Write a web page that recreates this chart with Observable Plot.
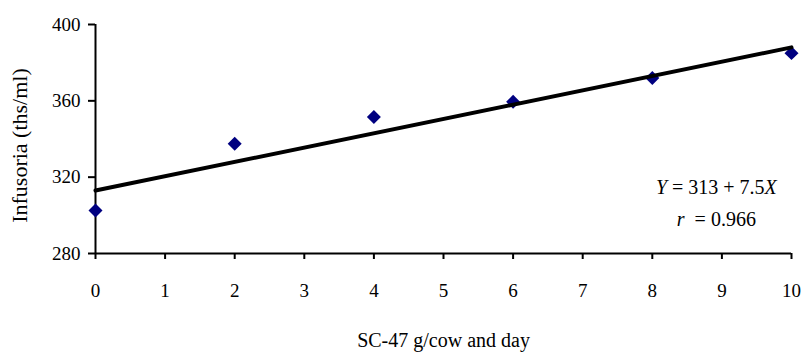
<!DOCTYPE html>
<html>
<head>
<meta charset="utf-8">
<script src="https://cdn.jsdelivr.net/npm/d3@7"></script>
<script src="https://cdn.jsdelivr.net/npm/@observablehq/plot@0.6"></script>
<style>
  html, body { margin: 0; padding: 0; background: white; }
</style>
</head>
<body>
<div id="chart"></div>
<script>
// Data
const doses = [0, 2, 4, 6, 8, 10];
const infusoria = [302.5, 337.5, 351.5, 359.5, 372, 385];
const xTicks = [0, 1, 2, 3, 4, 5, 6, 7, 8, 9, 10];
const yTicks = [280, 320, 360, 400];
const intercept = 313;
const slope = 7.5;
const rValue = "0.966";
const xLabel = "SC-47 g/cow and day";
const yLabel = "Infusoria (ths/ml)";

const points = doses.map((d, i) => ({x: d, y: infusoria[i]}));
const fitLine = [0, 10].map(x => ({x, y: intercept + slope * x}));
const eqText = `Y = ${intercept} + ${slope}X`;
const rText = `r = ${rValue}`;
const annotations = [
  {x: 8.92, y: 314.4, text: eqText},
  {x: 8.92, y: 297.8, text: rText}
];

const chart = Plot.plot({
  width: 801,
  height: 358,
  marginLeft: 95,
  marginRight: 10,
  marginTop: 24,
  marginBottom: 105,
  style: {fontFamily: "'Liberation Serif', 'DejaVu Serif', serif", fontSize: "19px", background: "white", color: "black"},
  x: {domain: [0, 10]},
  y: {domain: [280, 400]},
  marks: [
    Plot.axisX({ticks: xTicks, tickSize: 6, tickPadding: 24, strokeWidth: 2, label: null, tickFormat: d => String(d)}),
    Plot.axisY({ticks: yTicks, tickSize: 7, tickPadding: 8, strokeWidth: 2, label: null, tickFormat: d => String(d)}),
    Plot.ruleY([280], {stroke: "black", strokeWidth: 2}),
    Plot.ruleX([0], {stroke: "black", strokeWidth: 2}),
    Plot.dot(points, {x: "x", y: "y", symbol: "diamond2", r: 6.3, fill: "#000080", stroke: "none"}),
    Plot.line(fitLine, {x: "x", y: "y", stroke: "black", strokeWidth: 4}),
    Plot.text(annotations, {x: "x", y: "y", text: "text", fontSize: 20, fill: "black"}),
    Plot.text([xLabel], {frameAnchor: "bottom", dy: 93, fontSize: 20, fill: "black"}),
    Plot.text([yLabel], {frameAnchor: "left", textAnchor: "middle", rotate: -90, fontSize: 22, fill: "black"})
  ]
});

// italicise variable names in the annotations; place the y label
const parts = {
  [eqText]: [["Y", true], [` = ${intercept} + ${slope}`, false], ["X", true]],
  [rText]: [["r", true], [`  = ${rValue}`, false]]
};
const yScale = chart.scale("y");
const yMid = (yScale.apply(280) + yScale.apply(400)) / 2 + 7;
chart.querySelectorAll("text").forEach(t => {
  const p = parts[t.textContent];
  if (p) {
    t.textContent = "";
    t.setAttribute("xml:space", "preserve");
    t.style.whiteSpace = "pre";
    p.forEach(([s, it]) => {
      const ts = document.createElementNS("http://www.w3.org/2000/svg", "tspan");
      ts.textContent = s;
      if (it) ts.setAttribute("font-style", "italic");
      t.appendChild(ts);
    });
  } else if (t.textContent === yLabel) {
    t.parentNode.removeAttribute("transform");
    t.setAttribute("text-anchor", "middle");
    t.setAttribute("transform", `translate(20,${yMid}) rotate(-90)`);
  }
});

document.getElementById("chart").appendChild(chart);
</script>
</body>
</html>
